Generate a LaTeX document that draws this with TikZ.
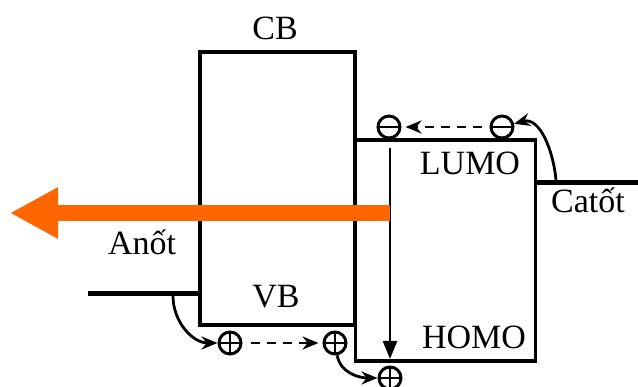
\documentclass[tikz,border=0pt]{standalone}
\usepackage{fontspec}
\setmainfont{Liberation Serif}
\usepackage{tikz}
\usepackage{xcolor}
\usetikzlibrary{arrows.meta,positioning,calc}
\definecolor{ink}{HTML}{000000}
\definecolor{flow}{HTML}{FF6600}
\tikzset{
  bandbox/.style={draw=ink,line width=3.4pt,inner sep=0pt},
  bandlabel/.style={anchor=base,font=\fontsize{34}{40}\selectfont,inner sep=0pt},
  lead/.style={draw=ink,line width=5pt},
  carrier/.style={circle,draw=ink,line width=3pt,minimum size=22pt,inner sep=0pt},
  electron/.style={carrier,path picture={
      \draw[line width=1.4pt] (path picture bounding box.west) -- (path picture bounding box.east);}},
  hole/.style={carrier,path picture={
      \draw[line width=1.4pt] (path picture bounding box.west) -- (path picture bounding box.east);
      \draw[line width=1.4pt] (path picture bounding box.north) -- (path picture bounding box.south);}},
  hoparr/.style={-{Stealth[length=16pt,width=13pt]},line width=2.8pt,
                 dash pattern=on 9pt off 7pt,shorten <=8pt,shorten >=4pt},
  jumparr/.style={-{Stealth[length=16pt,width=13pt]},line width=2.8pt},
  droparr/.style={-{Triangle[length=18pt,width=14pt]},line width=2.6pt},
  bigarr/.style={-{Triangle[length=48pt,width=48pt]},line width=16pt,color=flow}
}

\begin{document}
\begin{tikzpicture}[x=1pt,y=-1pt]
  \useasboundingbox (0,0) rectangle (638,387);
  \node[bandbox,minimum width=155pt,minimum height=273pt] (cb) at (277.5,188.5) {};
  \node[bandbox,minimum width=180pt,minimum height=221pt] (lumo) at (445.5,250.5) {};
  \node[bandlabel] (cbtxt) at (275,40) {CB};
  \node[bandlabel] (vbtxt) at (276,308) {VB};
  \node[bandlabel] (lumotxt) at (470,175) {LUMO};
  \node[bandlabel] (homotxt) at (474,349) {HOMO};
  \node[bandlabel] (anot) at (142,255) {Anốt};
  \node[bandlabel] (catot) at (588,213) {Catốt};

  \coordinate (anotend) at (88,294);
  \coordinate (catotend) at (638,183);
  \draw[lead] (anotend) -- (anotend -| cb.west);
  \draw[lead] (catotend) -- (catotend -| lumo.east);

  \node[electron] (e1) at (389,127) {};
  \node[electron] (e2) at (502,127) {};
  \node[hole] (h1) at (230,343) {};
  \node[hole] (h2) at (335,343) {};
  \node[hole] (h3) at (390,378) {};

  \coordinate (catotup) at (556,180);
  \coordinate (anotdown) at (173,296);
  \draw[jumparr] (catotup) to[out=95,in=15] (e2);
  \draw[hoparr] (e2) -- (e1);
  \draw[jumparr] (anotdown) to[out=-90,in=180] (h1);
  \draw[hoparr] (h1) -- (h2);
  \draw[jumparr] (h2) to[out=-80,in=180] (h3);

  \coordinate (droptop) at (390,148);
  \coordinate (dropend) at (390,359);
  \draw[droparr] (droptop) -- (dropend);

  \coordinate (flowstart) at (390,213);
  \coordinate (flowtip) at (10,213);
  \draw[bigarr] (flowstart) -- (flowtip);
\end{tikzpicture}
\end{document}
